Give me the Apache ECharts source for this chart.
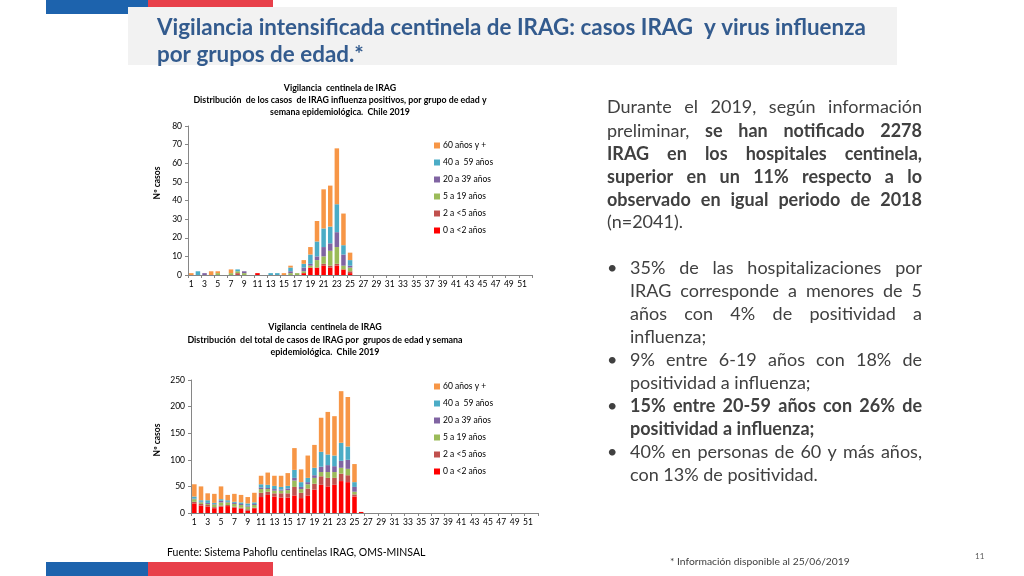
<!DOCTYPE html>
<html><head><meta charset="utf-8">
<script src="https://cdn.jsdelivr.net/npm/echarts@6/dist/echarts.min.js"></script>
<style>html,body{margin:0;padding:0;background:#fff}#c{width:1024px;height:576px}</style>
</head><body><div id="c"></div>
<script>
// ---------- DATA ----------
const weeks = ['1','2','3','4','5','6','7','8','9','10','11','12','13','14','15','16','17','18','19','20','21','22','23','24','25','26','27','28','29','30','31','32','33','34','35','36','37','38','39','40','41','42','43','44','45','46','47','48','49','50','51','52'];
const groupNames = ['0 a <2 años','2 a <5 años','5 a 19 años','20 a 39 años','40 a  59 años','60 años y +'];
// Chart 1: influenza-positive IRAG cases by age group, weeks 1-26
const flu_0_2   = [0,0,0,0,0,0,0,0,0,0,1,0,0,0,0,0,0,1,4,4,5,4,5,3,1,0];
const flu_2_5   = [0,0,0,0,0,0,0,1,0,0,0,0,0,0,0,0,0,0,0,0,1,1,1,0,1,0];
const flu_5_19  = [0,0,0,0,1,0,1,1,1,0,0,0,0,0,0,1,1,1,1,4,4,8,9,2,2,0];
const flu_20_39 = [0,0,1,0,0,0,0,0,1,0,0,0,0,0,0,1,0,2,1,2,5,4,8,6,1,0];
const flu_40_59 = [0,2,0,0,0,0,0,1,0,0,0,0,1,1,0,2,0,2,5,8,10,9,15,5,3,0];
const flu_60    = [1,0,0,2,1,0,2,0,0,0,0,0,0,0,1,1,0,2,4,11,21,22,30,17,4,0];
// Chart 2: total IRAG cases by age group, weeks 1-26
const tot_0_2   = [18,14,12,9,12,13,10,8,4,9,30,34,31,29,29,33,28,33,44,53,50,53,60,58,31,2];
const tot_2_5   = [3,3,3,2,2,2,2,2,3,1,8,6,6,8,8,16,10,13,11,16,16,13,14,13,4,0];
const tot_5_19  = [5,3,2,5,6,5,5,5,5,5,7,5,5,5,6,12,7,8,11,8,11,11,11,12,5,0];
const tot_20_39 = [1,1,2,1,3,1,2,2,2,2,3,2,3,2,3,5,4,4,5,10,13,11,13,17,9,0];
const tot_40_59 = [4,3,5,2,3,3,2,3,4,3,6,6,6,5,5,15,9,8,14,28,20,20,34,25,9,0];
const tot_60    = [23,26,13,17,24,10,15,14,12,18,16,23,19,21,24,41,24,42,43,64,80,74,97,93,34,0];

// ---------- STYLE ----------
const colors = ['#FF0000','#C0504D','#9BBB59','#8064A2','#4BACC6','#F79646'];
const FF = 'Lato, "Open Sans", sans-serif';
const TXT = '#404040';
const chart = echarts.init(document.getElementById('c'), null, {renderer:'canvas'});

const mctx = document.createElement('canvas').getContext('2d');
function measure(t, size, weight){ mctx.font = weight + ' ' + size + 'px ' + FF; return mctx.measureText(t).width; }

// ---------- JUSTIFIED TEXT ----------
const BODY = 18;
const bodyLines = [
  {x:607, y:107, j:true,  segs:[['Durante el 2019, según información','normal']]},
  {x:607, y:131, j:true,  segs:[['preliminar,','normal'],['se han notificado 2278','bold']]},
  {x:607, y:154, j:true,  segs:[['IRAG en los hospitales centinela,','bold']]},
  {x:607, y:177, j:true,  segs:[['superior en un 11% respecto a lo','bold']]},
  {x:607, y:200, j:true,  segs:[['observado en igual periodo de 2018','bold']]},
  {x:607, y:222, j:false, segs:[['(n=2041).','normal']]},
  {x:630, y:268, j:true,  segs:[['35% de las hospitalizaciones por','normal']], bullet:true},
  {x:630, y:291, j:true,  segs:[['IRAG corresponde a menores de 5','normal']]},
  {x:630, y:314, j:true,  segs:[['años con 4% de positividad a','normal']]},
  {x:630, y:337, j:false, segs:[['influenza;','normal']]},
  {x:630, y:360, j:true,  segs:[['9% entre 6-19 años con 18% de','normal']], bullet:true},
  {x:630, y:383, j:false, segs:[['positividad a influenza;','normal']]},
  {x:630, y:406, j:true,  segs:[['15% entre 20-59 años con 26% de','bold']], bullet:true},
  {x:630, y:429, j:false, segs:[['positividad a influenza;','bold']]},
  {x:630, y:452, j:true,  segs:[['40% en personas de 60 y más años,','normal']], bullet:true},
  {x:630, y:475, j:false, segs:[['con 13% de positividad.','normal']]}
];
const RIGHT = 922;
const graphics = [];
bodyLines.forEach(L => {
  const words = [];
  L.segs.forEach(s => s[0].split(' ').forEach(w => { if (w) words.push([w, s[1]]); }));
  const widths = words.map(w => measure(w[0], BODY, w[1]));
  const total = widths.reduce((a,b)=>a+b,0);
  const gap = (L.j && words.length>1) ? (RIGHT - L.x - total)/(words.length-1) : measure(' ', BODY, 'normal');
  let x = L.x;
  words.forEach((w,i) => {
    graphics.push({type:'text', x:x, y:L.y, style:{text:w[0], fill:TXT, fontSize:BODY, fontWeight:w[1], fontFamily:FF, textVerticalAlign:'middle'}});
    x += widths[i] + gap;
  });
  if (L.bullet) graphics.push({type:'text', x:607, y:L.y, style:{text:'•', fill:TXT, fontSize:BODY, fontFamily:FF, textVerticalAlign:'middle'}});
});

// ---------- DECORATION ----------
graphics.push(
  {type:'rect', shape:{x:46,y:0,width:102,height:14}, style:{fill:'#1D63AD'}},
  {type:'rect', shape:{x:148,y:0,width:125,height:14}, style:{fill:'#E8404A'}},
  {type:'rect', shape:{x:128,y:7,width:769,height:58}, style:{fill:'#F2F2F2'}},
  {type:'rect', shape:{x:46,y:562,width:102,height:14}, style:{fill:'#1D63AD'}},
  {type:'rect', shape:{x:148,y:562,width:125,height:14}, style:{fill:'#E8404A'}}
);
const titleL1 = 'Vigilancia intensificada centinela de IRAG: casos IRAG  y virus influenza';
const tSize = Math.min(24, 22 * 709 / measure(titleL1, 22, 'bold'));
graphics.push(
  {type:'text', x:157, y:28, style:{text:titleL1, fill:'#335B8E', fontSize:tSize, fontWeight:'bold', fontFamily:FF, textVerticalAlign:'middle'}},
  {type:'text', x:157, y:55, style:{text:'por grupos de edad.*', fill:'#335B8E', fontSize:tSize, fontWeight:'bold', fontFamily:FF, textVerticalAlign:'middle'}}
);
// chart titles
graphics.push(
  {type:'text', x:340, y:82, style:{text:'Vigilancia  centinela de IRAG\nDistribución  de los casos  de IRAG influenza positivos, por grupo de edad y\nsemana epidemiológica.  Chile 2019', fill:'#000', fontSize:8.8, fontWeight:'bold', fontFamily:FF, lineHeight:12, textAlign:'center'}},
  {type:'text', x:325, y:321, style:{text:'Vigilancia  centinela de IRAG\nDistribución  del total de casos de IRAG por  grupos de edad y semana\nepidemiológica.  Chile 2019', fill:'#000', fontSize:8.9, fontWeight:'bold', fontFamily:FF, lineHeight:12.5, textAlign:'center'}},
  {type:'text', x:157, y:183, rotation:Math.PI/2, style:{text:'Nº casos', fill:'#000', fontSize:8.5, fontWeight:'bold', fontFamily:FF, textAlign:'center', textVerticalAlign:'middle'}},
  {type:'text', x:157, y:440, rotation:Math.PI/2, style:{text:'Nº casos', fill:'#000', fontSize:8.5, fontWeight:'bold', fontFamily:FF, textAlign:'center', textVerticalAlign:'middle'}},
  {type:'text', x:167, y:553, style:{text:'Fuente: Sistema Pahoflu centinelas IRAG, OMS-MINSAL', fill:'#000', fontSize:10.5, fontFamily:FF, textVerticalAlign:'middle'}},
  {type:'text', x:670, y:562, style:{text:'* Información disponible al 25/06/2019', fill:TXT, fontSize:10.3, fontFamily:FF, textVerticalAlign:'middle'}},
  {type:'text', x:975, y:556, style:{text:'11', fill:'#595959', fontSize:8, fontFamily:FF, textVerticalAlign:'middle'}}
);

// ---------- CHART ----------
function xAx(gi){ return {type:'category', gridIndex:gi, data:weeks, boundaryGap:true,
  axisLine:{lineStyle:{color:'#868686', width:1}}, axisTick:{show:true, length:3, lineStyle:{color:'#868686'}},
  axisLabel:{interval:1, fontSize:8.5, color:'#000', fontFamily:FF, margin:5}}; }
function yAx(gi, max, iv){ return {type:'value', gridIndex:gi, min:0, max:max, interval:iv,
  axisLine:{show:true, lineStyle:{color:'#868686'}}, axisTick:{show:true, length:3, lineStyle:{color:'#868686'}},
  splitLine:{show:false}, axisLabel:{fontSize:8.5, color:'#000', fontFamily:FF, margin:6}}; }
const fluSets = [flu_0_2, flu_2_5, flu_5_19, flu_20_39, flu_40_59, flu_60];
const totSets = [tot_0_2, tot_2_5, tot_5_19, tot_20_39, tot_40_59, tot_60];
const series = [];
fluSets.forEach((d,i)=>series.push({name:groupNames[i], type:'bar', stack:'a', xAxisIndex:0, yAxisIndex:0, data:d, barCategoryGap:'32%', itemStyle:{color:colors[i]}, silent:true}));
totSets.forEach((d,i)=>series.push({name:groupNames[i], type:'bar', stack:'b', xAxisIndex:1, yAxisIndex:1, data:d, barCategoryGap:'32%', itemStyle:{color:colors[i]}, silent:true}));
const legOrder = groupNames.slice().reverse();
function leg(top){ return {orient:'vertical', left:429, top:top, data:legOrder, icon:'rect', itemWidth:6, itemHeight:6, itemGap:8,
  textStyle:{fontSize:8.5, color:'#000', fontFamily:FF, padding:[0,0,0,-2]}, selectedMode:false}; }

chart.setOption({
  animation:false,
  backgroundColor:'#fff',
  color:colors,
  grid:[{left:188, top:126, width:344, height:149}, {left:191, top:380, width:347, height:133}],
  xAxis:[xAx(0), xAx(1)],
  yAxis:[yAx(0,80,10), yAx(1,250,50)],
  legend:[leg(136), leg(377)],
  series:series,
  graphic:{elements:graphics}
});
</script></body></html>
